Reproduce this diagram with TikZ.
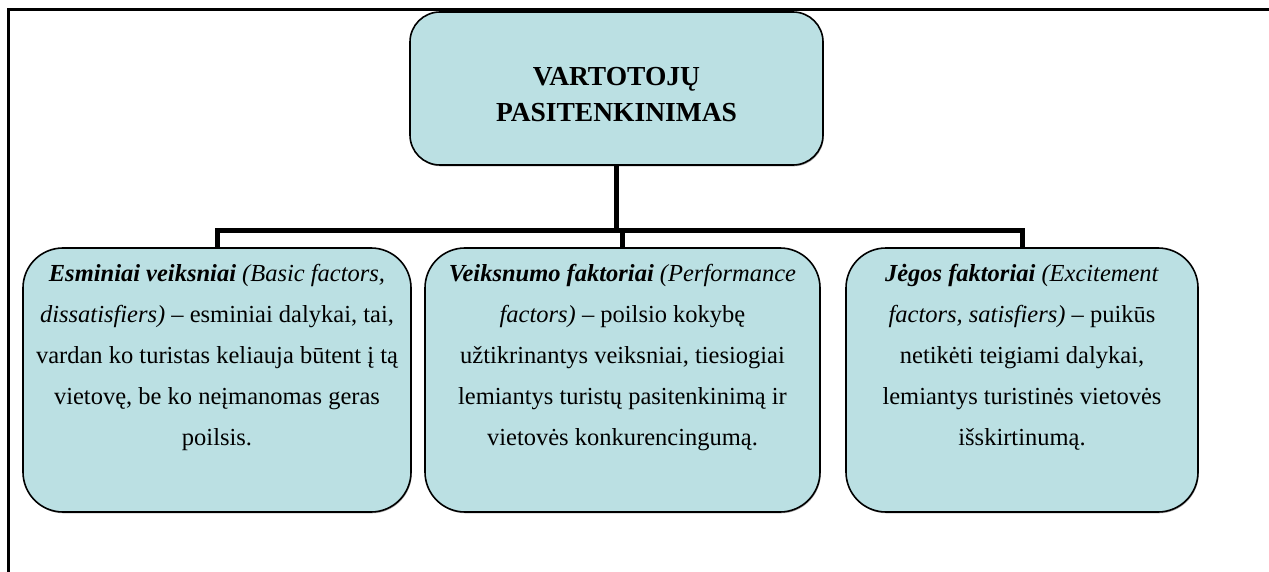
\documentclass[tikz,border=0pt]{standalone}
\usepackage{fontspec}
\setmainfont{Liberation Serif}
\usepackage{xcolor}
\usetikzlibrary{positioning,shadows}
\definecolor{boxblue}{RGB}{187,224,227}

\tikzset{
	panel/.style={draw=black, line width=1.6pt, fill=boxblue, rounded corners=#1, inner sep=0pt,
		drop shadow={shadow xshift=0.8pt, shadow yshift=-1.3pt, fill=black!55, opacity=.6}},
	factortext/.style={align=center, inner sep=0pt, font=\fontsize{24.5}{41}\selectfont},
	titletext/.style={align=center, inner sep=0pt, font=\fontsize{27.5}{36}\selectfont\bfseries},
	busline/.style={line width=5pt},
	frameline/.style={line width=3pt}
}

\begin{document}
\begin{tikzpicture}[x=1pt,y=1pt]
	\useasboundingbox (0,0) rectangle (1269,-572);
	\draw[frameline] (8,-572) -- (8,-10) -- (1272,-10);
	% boxes
	\node[panel=30pt, minimum width=413pt, minimum height=153pt] (top) at (616.5,-88.5) {};
	\node[titletext, below=56pt of top.north] (toptext) {VARTOTOJŲ\\PASITENKINIMAS};
	\node[panel=40pt, minimum width=388pt, minimum height=264pt] (basic) at (217,-380) {};
	\node[panel=40pt, minimum width=395pt, minimum height=264pt] (perf) at (622.5,-380) {};
	\node[panel=40pt, minimum width=352pt, minimum height=264pt] (excite) at (1022,-380) {};
	\node[factortext, below=17pt of basic.north] (basictext) {\textbf{\textit{Esminiai veiksniai}} \textit{(Basic factors,}\\
		\textit{dissatisfiers)} – esminiai dalykai, tai,\\
		vardan ko turistas keliauja būtent į tą\\
		vietovę, be ko neįmanomas geras\\
		poilsis.};
	\node[factortext, below=17pt of perf.north] (perftext) {\textbf{\textit{Veiksnumo faktoriai}} \textit{(Performance}\\
		\textit{factors)} – poilsio kokybę\\
		užtikrinantys veiksniai, tiesiogiai\\
		lemiantys turistų pasitenkinimą ir\\
		vietovės konkurencingumą.};
	\node[factortext, below=17pt of excite.north] (excitetext) {\textbf{\textit{Jėgos faktoriai}} \textit{(Excitement}\\
		\textit{factors, satisfiers)} – puikūs\\
		netikėti teigiami dalykai,\\
		lemiantys turistinės vietovės\\
		išskirtinumą.};
	% connectors
	\coordinate (bus) at (0,-231);
	\draw[busline] (top.south) -- (top.south |- bus);
	\draw[busline] (basic.north) -- (basic.north |- bus) -- (excite.north |- bus) -- (excite.north);
	\draw[busline] (perf.north) -- (perf.north |- bus);
\end{tikzpicture}
\end{document}
